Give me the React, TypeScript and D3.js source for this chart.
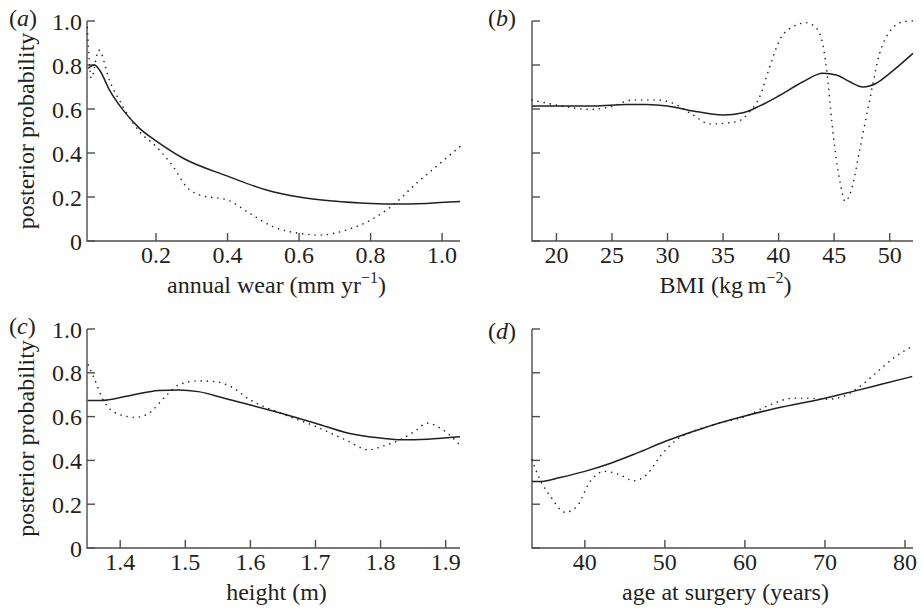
import React, { useRef, useEffect } from 'react';
import * as d3 from 'd3';

// panel (a): annual wear
const wearSolidX = [0.01, 0.028, 0.042, 0.07, 0.108, 0.154, 0.2, 0.276, 0.4, 0.509, 0.6, 0.695, 0.8, 0.863, 0.956, 1.05];
const wearSolidY = [0.785, 0.80, 0.777, 0.686, 0.595, 0.512, 0.455, 0.376, 0.295, 0.232, 0.2, 0.182, 0.171, 0.168, 0.171, 0.179];
const wearDotX = [0.008, 0.019, 0.04, 0.07, 0.108, 0.154, 0.2, 0.248, 0.285, 0.322, 0.4, 0.462, 0.527, 0.6, 0.658, 0.732, 0.8, 0.863, 0.928, 0.994, 1.05];
const wearDotY = [0.97, 0.74, 0.868, 0.73, 0.61, 0.497, 0.43, 0.338, 0.247, 0.209, 0.186, 0.126, 0.065, 0.035, 0.027, 0.05, 0.095, 0.164, 0.262, 0.353, 0.43];

// panel (b): BMI
const bmiSolidX = [17.8, 20, 23.35, 26.35, 28.1, 30, 32.3, 35, 36.8, 38.3, 40, 42.2, 44, 45.2, 46.4, 47.6, 48.8, 50, 52.1];
const bmiSolidY = [0.614, 0.614, 0.614, 0.621, 0.621, 0.614, 0.591, 0.573, 0.583, 0.614, 0.659, 0.724, 0.762, 0.755, 0.724, 0.70, 0.717, 0.762, 0.853];
const bmiDotX = [17.8, 20, 23.05, 24.85, 26.9, 29, 30.5, 32.3, 33.8, 36.2, 37.4, 38.3, 39.2, 40.1, 41.3, 42.5, 43.55, 44.3, 44.9, 45.5, 46, 46.55, 47.3, 48.2, 49.1, 50, 51.25, 52.1];
const bmiDotY = [0.641, 0.618, 0.598, 0.61, 0.641, 0.641, 0.626, 0.573, 0.532, 0.542, 0.588, 0.656, 0.792, 0.914, 0.974, 0.992, 0.959, 0.792, 0.489, 0.277, 0.18, 0.232, 0.414, 0.641, 0.853, 0.952, 0.997, 1.0];

// panel (c): height
const heightSolidX = [1.35, 1.369, 1.419, 1.459, 1.49, 1.52, 1.56, 1.6, 1.646, 1.7, 1.751, 1.8, 1.832, 1.872, 1.922];
const heightSolidY = [0.673, 0.673, 0.699, 0.719, 0.722, 0.714, 0.684, 0.653, 0.616, 0.57, 0.524, 0.502, 0.494, 0.497, 0.508];
const heightDotX = [1.351, 1.359, 1.374, 1.394, 1.424, 1.444, 1.469, 1.49, 1.52, 1.545, 1.57, 1.6, 1.646, 1.7, 1.746, 1.782, 1.802, 1.832, 1.852, 1.872, 1.892, 1.922];
const heightDotY = [0.836, 0.783, 0.676, 0.615, 0.597, 0.615, 0.691, 0.745, 0.763, 0.76, 0.737, 0.676, 0.616, 0.555, 0.494, 0.448, 0.464, 0.497, 0.532, 0.57, 0.547, 0.47];

// panel (d): age at surgery
const ageSolidX = [33.4, 34.6, 36.9, 40, 43.15, 46.5, 50, 53.5, 56, 60, 63.9, 70, 73.4, 76.8, 80.9];
const ageSolidY = [0.304, 0.304, 0.322, 0.35, 0.386, 0.433, 0.486, 0.532, 0.562, 0.603, 0.638, 0.684, 0.714, 0.745, 0.783];
const ageDotX = [33.4, 34.4, 35.7, 37.55, 39, 40.66, 42.5, 44.4, 46.06, 47.7, 49.4, 51.45, 53.5, 56.8, 60, 63.1, 66, 68, 70.1, 72.2, 74.3, 76.8, 78.8, 80.9];
const ageDotY = [0.403, 0.312, 0.236, 0.163, 0.19, 0.304, 0.35, 0.334, 0.307, 0.334, 0.418, 0.494, 0.532, 0.57, 0.6, 0.653, 0.684, 0.684, 0.679, 0.691, 0.736, 0.813, 0.874, 0.92];

const probTicks = [0, 0.2, 0.4, 0.6, 0.8, 1.0];
const wearTicks = [0.2, 0.4, 0.6, 0.8, 1.0];
const bmiTicks = [20, 25, 30, 35, 40, 45, 50];
const heightTicks = [1.4, 1.5, 1.6, 1.7, 1.8, 1.9];
const ageTicks = [40, 50, 60, 70, 80];

const panels = [
    { tag: 'a', left: 87, right: 460, top: 21, bottom: 241, xDomain: [0.007, 1.05], xTicks: wearTicks, fmt: '.1f', yLabels: true,
      title: ['annual wear (mm yr', '\u22121', ')'], solid: [wearSolidX, wearSolidY], dot: [wearDotX, wearDotY] },
    { tag: 'b', left: 532, right: 913, top: 21, bottom: 241, xDomain: [17.8, 52.1], xTicks: bmiTicks, fmt: 'd', yLabels: false,
      title: ['BMI (kg\u2009m', '\u22122', ')'], solid: [bmiSolidX, bmiSolidY], dot: [bmiDotX, bmiDotY] },
    { tag: 'c', left: 87, right: 460, top: 329, bottom: 548, xDomain: [1.349, 1.922], xTicks: heightTicks, fmt: '.1f', yLabels: true,
      title: ['height (m)'], solid: [heightSolidX, heightSolidY], dot: [heightDotX, heightDotY] },
    { tag: 'd', left: 532, right: 913, top: 329, bottom: 548, xDomain: [33.4, 81], xTicks: ageTicks, fmt: 'd', yLabels: false,
      title: ['age at surgery (years)'], solid: [ageSolidX, ageSolidY], dot: [ageDotX, ageDotY] },
];

const ink = '#231f20';
const axisColor = '#4d4d4d';
const font = '"Liberation Serif", "Times New Roman", serif';

const App = () => {
    const ref = useRef(null);

    useEffect(() => {
        const svg = d3.select(ref.current);
        svg.selectAll('*').remove();

        panels.forEach(p => {
            const x = d3.scaleLinear().domain(p.xDomain).range([p.left, p.right]);
            const y = d3.scaleLinear().domain([0, 1]).range([p.bottom, p.top]);
            const g = svg.append('g');

            // axes
            g.append('path')
                .attr('d', `M${p.left},${p.top}V${p.bottom}H${p.right}`)
                .attr('fill', 'none').attr('stroke', axisColor).attr('stroke-width', 1.4);

            g.selectAll('.ytick').data(probTicks).join('line')
                .attr('x1', p.left).attr('x2', p.left + 8)
                .attr('y1', d => y(d)).attr('y2', d => y(d))
                .attr('stroke', axisColor).attr('stroke-width', 1.4);

            g.selectAll('.xtick').data(p.xTicks).join('line')
                .attr('x1', d => x(d)).attr('x2', d => x(d))
                .attr('y1', p.bottom).attr('y2', p.bottom - 8)
                .attr('stroke', axisColor).attr('stroke-width', 1.4);

            if (p.yLabels) {
                g.selectAll('.ylab').data(probTicks).join('text')
                    .attr('x', p.left - 5).attr('y', d => y(d)).attr('dy', '0.36em')
                    .attr('text-anchor', 'end')
                    .text(d => d === 0 ? '0' : d3.format('.1f')(d));

                g.append('text')
                    .attr('transform', `translate(34,${(p.top + p.bottom) / 2}) rotate(-90)`)
                    .attr('text-anchor', 'middle')
                    .text('posterior probability');
            }

            g.selectAll('.xlab').data(p.xTicks).join('text')
                .attr('x', d => x(d)).attr('y', p.bottom + 22)
                .attr('text-anchor', 'middle')
                .text(d => d3.format(p.fmt)(d));

            const t = g.append('text')
                .attr('x', (p.left + p.right) / 2 + 3).attr('y', p.bottom + 52)
                .attr('text-anchor', 'middle');
            t.append('tspan').text(p.title[0]);
            if (p.title.length > 1) {
                t.append('tspan').attr('dy', -10).attr('font-size', 16).text(p.title[1]);
                t.append('tspan').attr('dy', 10).text(p.title[2]);
            }

            const lab = g.append('text')
                .attr('x', p.left === 87 ? 9 : 488).attr('y', p.top + (p.tag === 'd' ? 10 : 5));
            lab.append('tspan').text('(');
            lab.append('tspan').attr('font-style', 'italic').text(p.tag);
            lab.append('tspan').text(')');

            const line = d3.line().x(d => x(d[0])).y(d => y(d[1])).curve(d3.curveMonotoneX);
            const solid = p.solid[0].map((v, i) => [v, p.solid[1][i]]);
            const dot = p.dot[0].map((v, i) => [v, p.dot[1][i]]);

            g.append('path').attr('d', line(solid))
                .attr('fill', 'none').attr('stroke', ink).attr('stroke-width', 1.5);
            g.append('path').attr('d', line(dot))
                .attr('fill', 'none').attr('stroke', ink).attr('stroke-width', 1.6)
                .attr('stroke-linecap', 'round').attr('stroke-dasharray', '0.01 6.2');
        });
    }, []);

    return (
        <svg ref={ref} width={922} height={612}
            style={{ position: 'absolute', left: 0, top: 0, background: '#fff' }}
            fontFamily={font} fontSize={24} fill={ink} />
    );
};

export default App;
